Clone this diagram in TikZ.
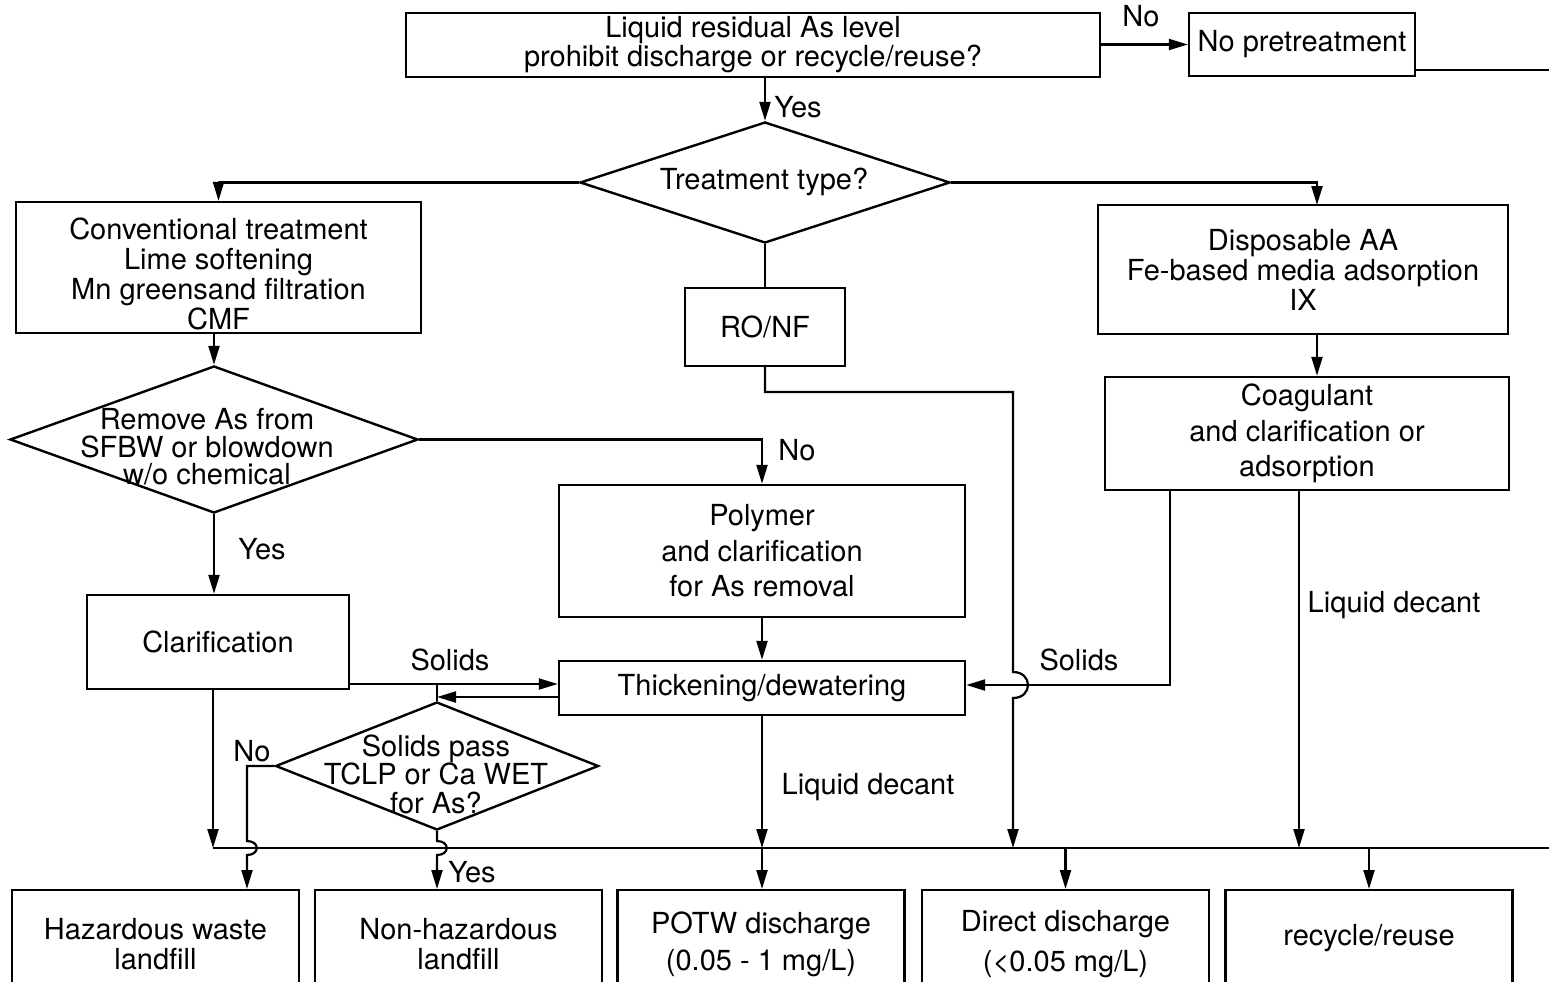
\documentclass[tikz,border=0pt]{standalone}
\usepackage{fontspec}
\setmainfont{TeX Gyre Heros}
\usetikzlibrary{shapes.geometric,arrows.meta,calc}

\begin{document}
\begin{tikzpicture}[x=0.5pt,y=-0.5pt,line width=1.1pt,
    >={Triangle[length=9.5pt,width=5.5pt]},
    every node/.style={font=\fontsize{14.5pt}{15pt}\selectfont},
    box/.style={draw,rectangle,align=center,inner sep=0pt,line width=1.2pt},
    dia/.style={draw,diamond,inner sep=0pt,line width=1.2pt},
    txt/.style={align=center,inner sep=0pt},
    sink/.style={box,anchor=north,minimum width=143.5pt,minimum height=54pt},
    lbl/.style={inner sep=0pt}]
    \path[use as bounding box,clip] (0,0) rectangle (1549,981);

    % decision boxes and treatment steps
    \node[box,minimum width=347pt,minimum height=32pt] (liq) at (753,45)
      {Liquid residual As level\\[-0.5pt]prohibit discharge or recycle/reuse?};
    \node[box,minimum width=113pt,minimum height=31.5pt] (nopre) at (1302,44.5) {No pretreatment};
    \node[dia,minimum width=185pt,minimum height=60.5pt] (type) at (765,182.5) {};
    \node[txt] (typet) at (764,182) {Treatment type?};
    \node[box,minimum width=202.5pt,minimum height=65.5pt] (conv) at (218.5,267.5)
      {\rule{0pt}{17pt}Conventional treatment\\Lime softening\\Mn greensand filtration\\CMF};
    \node[box,minimum width=80pt,minimum height=39pt] (ronf) at (765,327) {RO/NF};
    \node[box,minimum width=205pt,minimum height=64.5pt] (disp) at (1303,269.5)
      {Disposable AA\\Fe-based media adsorption\\IX};
    \node[box,minimum width=202pt,minimum height=56.5pt] (coag) at (1307,433.5)
      {Coagulant\\[2.75pt]and clarification or\\[2.75pt]adsorption};
    \node[dia,minimum width=204pt,minimum height=73.5pt] (sfbw) at (214,439.5) {};
    \node[txt] (sfbwt) at (207,447) {Remove As from\\[-1.25pt]SFBW or blowdown\\[-1.25pt]w/o chemical};
    \node[box,minimum width=203pt,minimum height=66pt] (poly) at (762,551)
      {Polymer\\[2.75pt]and clarification\\[2.75pt]for As removal};
    \node[box,minimum width=131pt,minimum height=47pt] (clar) at (218,642) {Clarification};
    \node[box,minimum width=203pt,minimum height=27pt] (thick) at (762,688) {Thickening/dewatering};
    \node[dia,minimum width=161.5pt,minimum height=64pt] (pass) at (437,766) {};
    \node[txt] (passt) at (436,774) {Solids pass\\[-0.75pt]TCLP or Ca WET\\[-0.75pt]for As?};

    % end points
    \node[sink] (haz) at (155.5,889) {Hazardous waste\\landfill};
    \node[sink] (nonhaz) at (458.5,889) {Non-hazardous\\landfill};
    \node[sink] (potw) at (761,889) {POTW discharge\\[3.5pt](0.05 - 1 mg/L)};
    \node[sink] (direct) at (1065.5,889) {Direct discharge\\[5pt]({<}0.05 mg/L)};
    \node[sink] (recyc) at (1369,889) {\raisebox{9.5pt}{recycle/reuse}};

    \coordinate (bus) at (213,848);
    \coordinate (busR) at (1549,848);
    \coordinate (outR) at (1549,70);
    \coordinate (dispin) at (1317,205);
    \coordinate (solL) at (349,684);
    \coordinate (solR) at (1170,685);
    \coordinate (ret) at (559,697);
    \coordinate (roX) at (1013,392);
    \coordinate (noX) at (247,766);
    \coordinate (ldX) at (1299,490);

    \draw[->] (liq.east |- nopre.west) -- (nopre.west);
    \draw (nopre.east |- outR) -- (outR);
    \draw[->] (liq.south -| type.north) -- (type.north);
    \draw[->] (type.west) -| (conv.north);
    \draw[->] (type.east) -| (dispin);
    \draw (type.south) -- (ronf.north);
    \draw[->] (conv.south -| sfbw.north) -- (sfbw.north);
    \draw[->] (dispin |- disp.south) -- (dispin |- coag.north);
    \draw[->] (sfbw.east) -| (poly.north);
    \draw[->] (sfbw.south) -- (sfbw.south |- clar.north);
    \draw[->] (poly.south) -- (thick.north);
    \draw[->] (solL) -- (solL -| thick.west);
    \draw[->] (ret) -- (ret -| pass.north);
    \draw (solL -| pass.north) -- (pass.north);
    \draw[->] (clar.south -| bus) -- (bus);
    \draw (bus) -- (busR);
    \draw[->] (pass.west) -| ($(noX |- bus)+(0,3.5pt)$)
      .. controls +(6.5pt,0) and +(6.5pt,0) .. ++(0,-7pt) -- (noX |- haz.north);
    \draw[->] (pass.south) -- ($(pass.south |- bus)+(0,3.5pt)$)
      .. controls +(6.5pt,0) and +(6.5pt,0) .. ++(0,-7pt) -- (pass.south |- nonhaz.north);
    \draw[->] (thick.south) -- (thick.south |- bus);
    \draw[->] (thick.south |- bus) -- (thick.south |- potw.north);
    \draw[->] (ronf.south) |- (roX) -- ($(roX |- solR)+(0,6.5pt)$)
      .. controls +(10pt,0) and +(10pt,0) .. ++(0,-13pt) -- (roX |- bus);
    \draw[->] (solR |- coag.south) -- (solR) -- (solR -| thick.east);
    \draw[->] (ldX |- coag.south) -- (ldX |- bus);
    \draw[->] (bus -| direct.north) -- (direct.north);
    \draw[->] (bus -| recyc.north) -- (recyc.north);

    % connector labels
    \node[lbl] (noA) at (1141,16) {No};
    \node[lbl] (yesA) at (798,107) {Yes};
    \node[lbl] (noB) at (797,450) {No};
    \node[lbl] (yesB) at (262,549) {Yes};
    \node[lbl] (solA) at (450,660) {Solids};
    \node[lbl] (solB) at (1079,660) {Solids};
    \node[lbl] (decA) at (1394,605) {Liquid decant};
    \node[lbl] (decB) at (868,787) {Liquid decant};
    \node[lbl] (noC) at (252,751) {No};
    \node[lbl] (yesC) at (472,872) {Yes};
  \end{tikzpicture}
\end{document}
